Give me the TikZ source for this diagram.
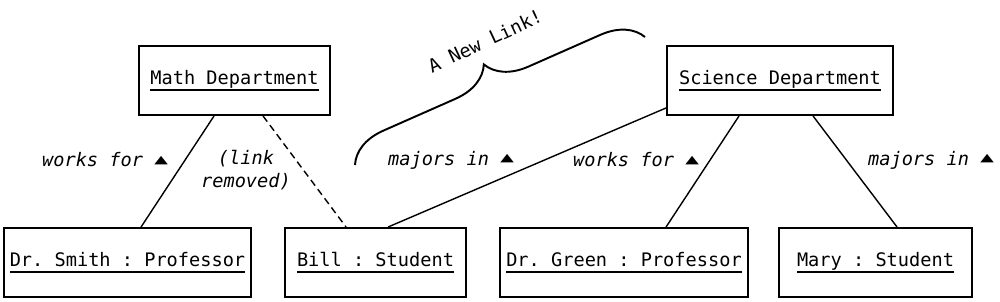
\documentclass[tikz,border=0pt]{standalone}
\usepackage{fontspec}
\setmonofont{DejaVu Sans Mono}
\newfontfamily\symfont{DejaVu Sans}
\usetikzlibrary{calc,decorations.pathreplacing}
\newcommand\undl[1]{\leavevmode\vtop{\hbox{\raisebox{0pt}[\height][0pt]{#1}}\kern3pt\hrule height 0.9pt}}
\newcommand\tri{\raisebox{2.2pt}{\symfont\scalebox{0.95}[0.6]{▲}}}
\tikzset{
  obj/.style={draw, line width=1.1pt, inner sep=0pt, minimum height=69*0.02cm,
    font=\ttfamily\fontsize{10.6}{13}\selectfont},
  link/.style={line width=0.8pt},
  removed/.style={line width=0.8pt, dash pattern=on 4pt off 2.5pt},
  lbl/.style={font=\ttfamily\itshape\fontsize{10.6}{13}\selectfont, inner sep=0pt},
  note/.style={font=\ttfamily\fontsize{10.6}{13}\selectfont, inner sep=0pt},
}
\begin{document}
\begin{tikzpicture}[x=0.02cm,y=-0.02cm]
\useasboundingbox (0,0) rectangle (1000,301);
\node[obj, minimum width=191*0.02cm] (math) at (234.5,80.5) {\undl{Math Department}};
\node[obj, minimum width=226*0.02cm] (sci) at (780,80.5) {\undl{Science Department}};
\node[obj, minimum width=247*0.02cm] (smith) at (127.5,262.5) {\undl{Dr. Smith : Professor}};
\node[obj, minimum width=181*0.02cm] (bill) at (375.5,262.5) {\undl{Bill : Student}};
\node[obj, minimum width=248*0.02cm] (green) at (624,262.5) {\undl{Dr. Green : Professor}};
\node[obj, minimum width=193*0.02cm] (mary) at (875.5,262.5) {\undl{Mary : Student}};

\draw[link] ($(math.south west)+(76,0)$) -- ($(smith.north west)+(138,0)$);
\draw[removed] ($(math.south west)+(125,0)$) -- ($(bill.north west)+(62,0)$);
\draw[link] ($(sci.south west)+(0,-8)$) -- ($(bill.north west)+(104,0)$);
\draw[link] ($(sci.south west)+(73,0)$) -- ($(green.north west)+(167,0)$);
\draw[link] ($(sci.south west)+(147,0)$) -- ($(mary.north west)+(119,0)$);

\node[lbl] (l1) at (105,160) {works for \tri};
\node[lbl, align=center] (l2) at (246,170) {(link\\removed)};
\node[lbl] (l3) at (451,160) {majors in \tri};
\node[lbl] (l4) at (636,160) {works for \tri};
\node[lbl] (l5) at (931,160) {majors in \tri};

\coordinate (b1) at (355,165);
\coordinate (b2) at (645,37);
\draw[line width=1.1pt, decorate, decoration={brace, amplitude=0.8cm}] (b1) -- (b2);
\node[note, rotate=25] (newlink) at (485,41) {A New Link!};
\end{tikzpicture}
\end{document}
